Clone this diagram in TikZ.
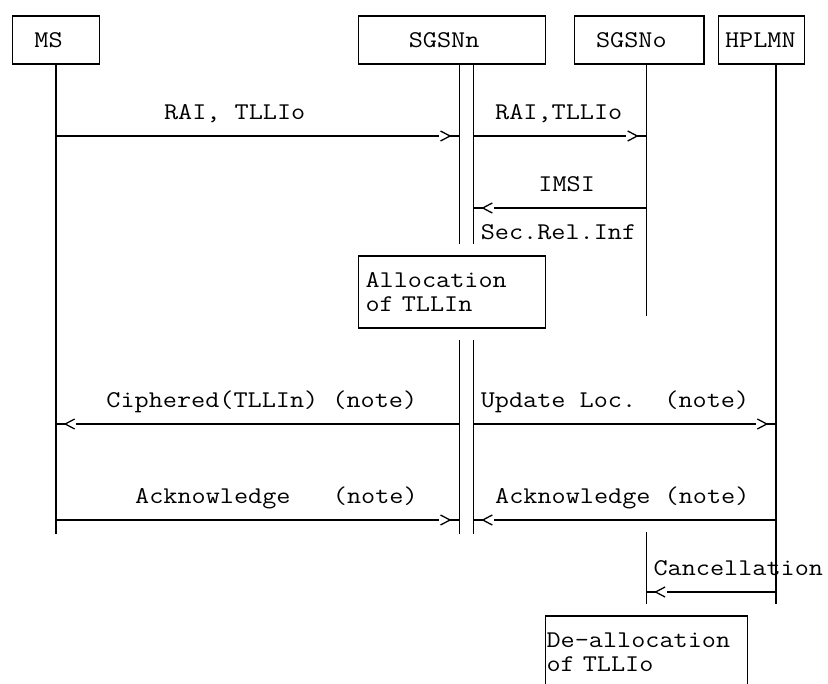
\documentclass[tikz,border=0pt]{standalone}
\usepackage{fontspec}
\setmonofont{Latin Modern Mono}[FakeStretch=1.142857]
\usetikzlibrary{decorations.markings}

\begin{document}
\begin{tikzpicture}[
    x=14.4pt, y=-24pt,
    every node/.style={
        font=\ttfamily\fontsize{24}{24}\selectfont,
        inner sep=0pt,
        outer sep=0pt
    },
    entity/.style={
        draw,
        line width=1.3pt,
        anchor=north west,
        align=left
    },
    msgtext/.style={anchor=base west},
    life/.style={line width=1.3pt},
    msg/.style={
        line width=1.3pt,
        postaction={decorate},
        decoration={markings,
            mark=at position -9.2pt with {
                \fill[white] (-11pt,-1.3pt) rectangle (-1.8pt,1.3pt);
                \draw[line width=1.3pt] (-9.5pt,5pt) -- (0pt,0pt) -- (-9.5pt,-5pt);
            }}
    }
]
\useasboundingbox (-3.8889,-0.6667) rectangle (53.6111,27.8333);
\clip (-3.8889,-0.6667) rectangle (53.6111,27.8333);

% ------------------------
% Entities
% ------------------------
\node[entity, minimum width=86.4pt, minimum height=48pt, text width=43.2pt]
    (ms) at (-3,0) {MS};
\node[entity, minimum width=187.2pt, minimum height=48pt, text width=86.4pt]
    (sgsnn) at (21,0) {SGSNn};
\node[entity, minimum width=129.6pt, minimum height=48pt, text width=86.4pt]
    (sgsno) at (36,0) {SGSNo};
\node[entity, minimum width=86.4pt, minimum height=48pt, text width=73pt]
    (hplmn) at (46,0) {HPLMN};

\coordinate (msl) at (0,2);
\coordinate (nla) at (28,2);
\coordinate (nlb) at (29,2);
\coordinate (ol)  at (41,2);
\coordinate (hl)  at (50,2);

% ------------------------
% Lifelines
% ------------------------
\draw[life] (msl) -- (msl |- 0,21.6);
\draw[life] (nla) -- (nla |- 0,9.5);
\draw[life] (nlb) -- (nlb |- 0,9.5);
\draw[life] (nla |- 0,13.5) -- (nla |- 0,21.6);
\draw[life] (nlb |- 0,13.5) -- (nlb |- 0,21.6);
\draw[life] (ol) -- (ol |- 0,12.5);
\draw[life] (ol |- 0,21.5) -- (ol |- 0,24.5);
\draw[life] (hl) -- (hl |- 0,24.5);

% ------------------------
% Local actions
% ------------------------
\node[entity, minimum width=187.2pt, minimum height=72pt, text width=172.8pt]
    (alloc) at (21,10) {Allocation\\of TLLIn};
\node[entity, minimum width=201.6pt, minimum height=72pt, text width=199.6pt]
    (dealloc) at (34,25) {De-allocation\\of TLLIo};

% ------------------------
% Messages
% ------------------------
\node[msgtext] (rai1) at (7.5,4.3) {RAI, TLLIo};
\draw[msg] (msl |- 0,5) -- (nla |- 0,5);

\node[msgtext] (rai2) at (30.5,4.3) {RAI,TLLIo};
\draw[msg] (nlb |- 0,5) -- (ol |- 0,5);

\node[msgtext] (imsi) at (33.5,7.3) {IMSI};
\draw[msg] (ol |- 0,8) -- (nlb |- 0,8);
\node[msgtext] (secrel) at (29.5,9.3) {Sec.Rel.Inf};

\node[msgtext] (ciph) at (3.5,16.3) {Ciphered(TLLIn) (note)};
\draw[msg] (nla |- 0,17) -- (msl |- 0,17);

\node[msgtext] (updloc) at (29.5,16.3) {Update Loc.\ \ (note)};
\draw[msg] (nlb |- 0,17) -- (hl |- 0,17);

\node[msgtext] (ack1) at (5.5,20.3) {Acknowledge\ \ \ (note)};
\draw[msg] (msl |- 0,21) -- (nla |- 0,21);

\node[msgtext] (ack2) at (30.5,20.3) {Acknowledge (note)};
\draw[msg] (hl |- 0,21) -- (nlb |- 0,21);

\node[msgtext] (cancel) at (41.5,23.3) {Cancellation};
\draw[msg] (hl |- 0,24) -- (ol |- 0,24);

\end{tikzpicture}
\end{document}
